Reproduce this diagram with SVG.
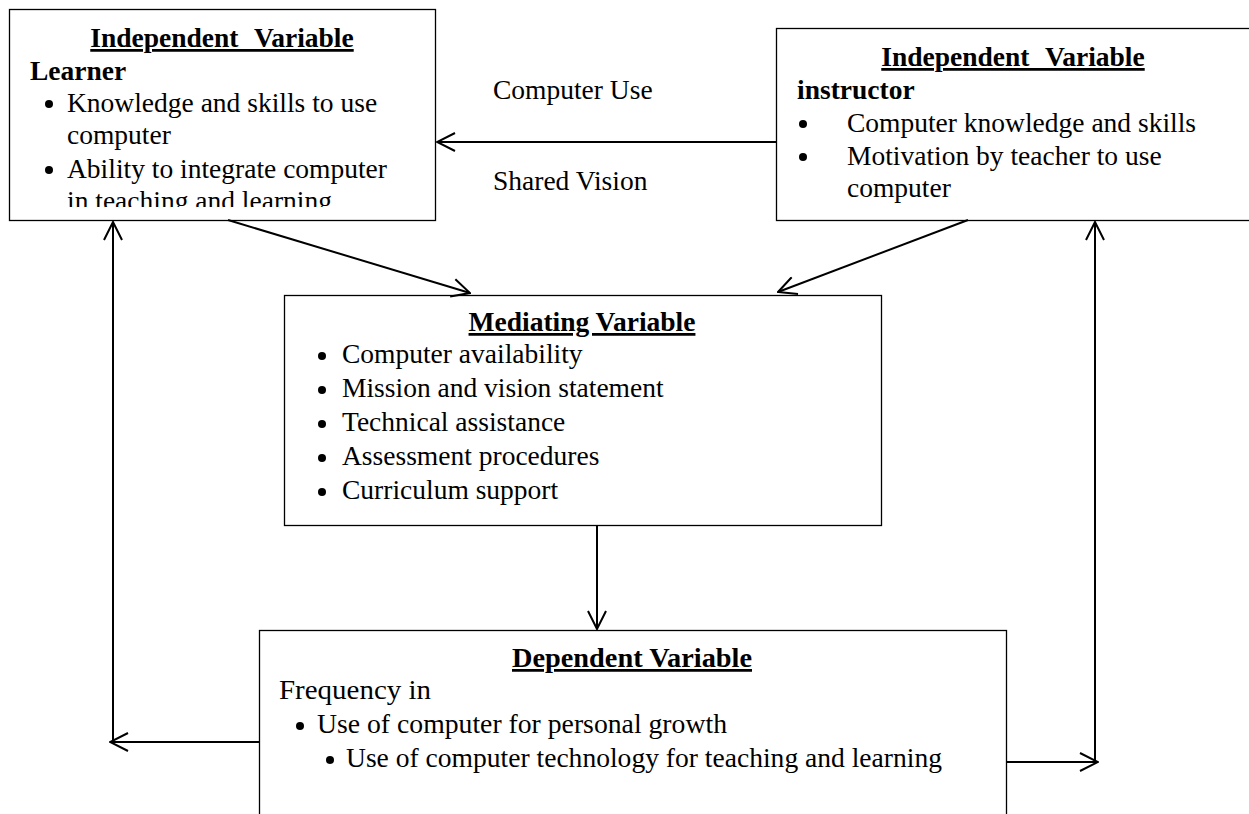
<svg xmlns="http://www.w3.org/2000/svg" width="1249" height="814" viewBox="0 0 1249 814">
<style>
text{font-family:"Liberation Serif","Times New Roman",serif;font-size:27.5px;fill:#000}
.t{font-weight:bold;text-decoration:underline}
.b{font-weight:bold}
.box{fill:#fff;stroke:#000;stroke-width:1.3}
.c{fill:none;stroke:#000;stroke-width:2}
</style>
<defs>
<marker id="ah" viewBox="0 0 20 20" refX="19" refY="10" markerWidth="20" markerHeight="20" markerUnits="userSpaceOnUse" orient="auto">
<path d="M1,1 L19,10 L1,19" fill="none" stroke="#000" stroke-width="2"/>
</marker>
<clipPath id="clipL"><rect x="9" y="9" width="426" height="198"/></clipPath>
</defs>
<rect width="1249" height="814" fill="#fff"/>
<g id="learner">
<rect class="box" x="9.5" y="9.5" width="426" height="211"/>
<g clip-path="url(#clipL)">
<text class="t" x="222" y="47" text-anchor="middle" word-spacing="9">Independent Variable</text>
<text class="b" x="30" y="80">Learner</text>
<circle cx="49" cy="104" r="4"/>
<text x="67" y="112">Knowledge and skills to use</text>
<text x="67" y="144">computer</text>
<circle cx="49" cy="170" r="4"/>
<text x="67" y="178">Ability to integrate computer</text>
<text x="67" y="210">in teaching and learning</text>
</g>
</g>
<g id="instructor">
<rect class="box" x="776.5" y="28.5" width="490" height="192"/>
<text class="t" x="1013" y="66" text-anchor="middle" word-spacing="9">Independent Variable</text>
<text class="b" x="797" y="99">instructor</text>
<circle cx="803" cy="124" r="4"/>
<text x="847" y="132">Computer knowledge and skills</text>
<circle cx="803" cy="157" r="4"/>
<text x="847" y="165">Motivation by teacher to use</text>
<text x="847" y="197">computer</text>
</g>
<g id="mediating">
<rect class="box" x="284.5" y="295.5" width="597" height="230"/>
<text class="t" x="582" y="331" text-anchor="middle">Mediating Variable</text>
<circle cx="322" cy="356" r="4"/>
<text x="342" y="363">Computer availability</text>
<circle cx="322" cy="390" r="4"/>
<text x="342" y="397">Mission and vision statement</text>
<circle cx="322" cy="424" r="4"/>
<text x="342" y="431">Technical assistance</text>
<circle cx="322" cy="458" r="4"/>
<text x="342" y="465">Assessment procedures</text>
<circle cx="322" cy="492" r="4"/>
<text x="342" y="499">Curriculum support</text>
</g>
<g id="dependent">
<rect class="box" x="259.5" y="630.5" width="747" height="200"/>
<text class="t" x="512" y="667" textLength="240" lengthAdjust="spacingAndGlyphs">Dependent Variable</text>
<text x="279" y="699" textLength="152" lengthAdjust="spacingAndGlyphs">Frequency in</text>
<circle cx="300" cy="726" r="4"/>
<text x="317" y="733" textLength="410" lengthAdjust="spacingAndGlyphs">Use of computer for personal growth</text>
<circle cx="330" cy="760" r="4"/>
<text x="346" y="767" textLength="596" lengthAdjust="spacingAndGlyphs">Use of computer technology for teaching and learning</text>
</g>
<g id="labels">
<text x="493" y="99">Computer Use</text>
<text x="493" y="190">Shared Vision</text>
</g>
<g id="connectors">
<line class="c" x1="776" y1="142" x2="437" y2="142" marker-end="url(#ah)"/>
<line class="c" x1="228" y1="220" x2="470" y2="293" marker-end="url(#ah)"/>
<line class="c" x1="968" y1="220" x2="778" y2="292" marker-end="url(#ah)"/>
<line class="c" x1="597" y1="525" x2="597" y2="629" marker-end="url(#ah)"/>
<line class="c" x1="259" y1="742" x2="110" y2="742" marker-end="url(#ah)"/>
<line class="c" x1="113" y1="742" x2="113" y2="222" marker-end="url(#ah)"/>
<line class="c" x1="1006" y1="762" x2="1098" y2="762" marker-end="url(#ah)"/>
<line class="c" x1="1095" y1="762" x2="1095" y2="222" marker-end="url(#ah)"/>
</g>
</svg>
